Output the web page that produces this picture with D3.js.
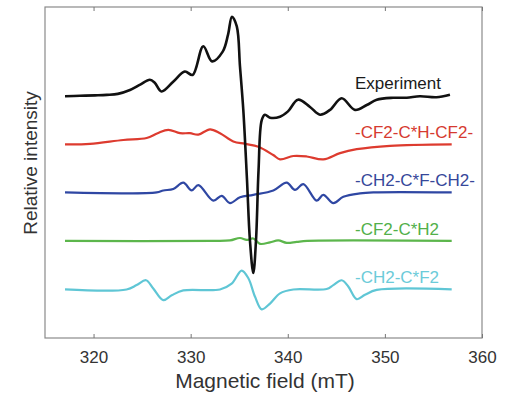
<!DOCTYPE html>
<html>
<head>
<meta charset="utf-8">
<script src="https://cdn.jsdelivr.net/npm/d3@7"></script>
<style>
  body { margin: 0; background: #fff; }
  svg { display: block; font-family: "Liberation Sans", Arial, sans-serif; }
</style>
</head>
<body>
<div id="chart"></div>
<script>
// chart data : field in mT, relative signal around each trace baseline
var xTicks = [320, 330, 340, 350, 360];

var expField = [317.06, 318.6, 320.15, 321.35, 322.5, 323.75, 324.8, 325.8, 326.3, 327.0, 328.2, 329.4, 330.2, 331.3, 332.2, 333.3, 333.85, 334.25, 334.75, 335.08, 335.42, 335.8, 336.1, 336.45, 336.73, 336.99, 337.32, 337.65, 338.17, 339.2, 340.02, 341.05, 342.29, 343.32, 344.35, 345.55, 346.92, 348.13, 349.16, 350.84, 352.25, 353.6, 355.3, 356.7];
var expValue = [-0.02, -0.01, 0, 0.01, 0.03, 0.11, 0.22, 0.32, 0.26, 0.08, 0.28, 0.49, 0.42, 1.01, 0.70, 0.90, 1.25, 1.62, 1.42, 0.59, -0.30, -1.74, -2.98, -3.66, -2.98, -1.54, -0.51, -0.40, -0.46, -0.44, -0.33, -0.09, -0.24, -0.40, -0.30, -0.06, -0.30, -0.20, -0.09, -0.05, -0.05, -0.02, -0.04, 0.01];

var redField = [317.06, 319.63, 323.06, 325.47, 326.6, 327.7, 328.9, 329.93, 330.79, 331.99, 333.02, 334.39, 335.6, 336.97, 338.5, 339.2, 340.57, 341.95, 343.66, 345.38, 347.1, 350.53, 356.88];
var redValue = [-0.01, 0, 0.08, 0.12, 0.22, 0.29, 0.22, 0.22, 0.19, 0.30, 0.22, 0.05, 0, -0.06, -0.23, -0.32, -0.25, -0.26, -0.32, -0.19, -0.11, -0.04, -0.01];

var blueField = [317.06, 326.5, 327.18, 328.21, 329.24, 330.1, 330.79, 332.33, 333.19, 334.05, 335.08, 336.45, 338.51, 339.89, 340.74, 341.6, 342.98, 343.66, 344.69, 345.72, 347.44, 348.81, 356.88];
var blueValue = [0, 0, 0.04, 0.07, 0.20, 0.04, 0.15, -0.17, -0.07, -0.22, -0.10, -0.05, 0.04, 0.20, 0.05, 0.17, -0.17, -0.05, -0.22, -0.09, -0.02, 0, 0];

var greenField = [317.06, 332.33, 334.05, 335.08, 335.77, 336.45, 337.14, 338.17, 339.02, 339.89, 340.92, 342.0, 356.88];
var greenValue = [0, 0, 0.01, 0.06, 0.02, 0.05, -0.06, -0.03, 0.01, -0.04, -0.02, 0, 0];

var cyanField = [317.06, 323.4, 324.44, 325.4, 326.15, 327.18, 328.05, 329.24, 333.02, 334.22, 335.25, 335.94, 336.63, 337.32, 338.17, 339.2, 340.57, 344.0, 344.69, 345.55, 346.23, 347.1, 347.95, 349.16, 356.88];
var cyanValue = [0, 0, 0.09, 0.19, 0.02, -0.22, -0.12, -0.02, 0, 0.12, 0.39, 0.23, -0.15, -0.41, -0.29, -0.08, 0, 0.01, 0.09, 0.19, 0.06, -0.20, -0.11, -0.01, 0];

var seriesNames = ["Experiment", "-CF2-C*H-CF2-", "-CH2-C*F-CH2-", "-CF2-C*H2", "-CH2-C*F2"];
var seriesOffsets = [5, 4, 3, 2, 1];
var lineColors = ["#111111", "#dd3b2f", "#2f47a3", "#5cb64c", "#5fc6d5"];
var labelColors = ["#1a1a1a", "#d63a30", "#36479a", "#52b04a", "#6ccbd9"];

var width = 511,
    height = 396;
var margin = {left: 45, right: 29, top: 7, bottom: 58};

var svg = d3.select("#chart").append("svg")
  .attr("width", width)
  .attr("height", height);

svg.append("rect").attr("width", width).attr("height", height).attr("fill", "#fff");

var x = d3.scaleLinear()
  .domain([315, 360])
  .range([margin.left, width - margin.right]);

var y = d3.scaleLinear()
  .domain([0, 6.82])
  .range([height - margin.bottom, margin.top]);

// frame
svg.append("rect")
  .attr("x", margin.left)
  .attr("y", margin.top)
  .attr("width", width - margin.left - margin.right)
  .attr("height", height - margin.top - margin.bottom)
  .attr("fill", "none")
  .attr("stroke", "#8a8a8a")
  .attr("stroke-width", 1.2);

// bottom axis, ticks pointing inside
var xAxis = svg.append("g")
  .attr("transform", "translate(0," + (height - margin.bottom) + ")")
  .call(d3.axisBottom(x).tickValues(xTicks).tickSize(-4).tickPadding(13));
xAxis.select(".domain").remove();
xAxis.selectAll(".tick line").attr("stroke", "#777");
xAxis.selectAll(".tick text")
  .attr("fill", "#333")
  .style("font-size", "17px")
  .style("font-family", "Liberation Sans, Arial, sans-serif");

// top ticks
var xTop = svg.append("g")
  .attr("transform", "translate(0," + margin.top + ")")
  .call(d3.axisTop(x).tickValues(xTicks).tickSize(-4).tickFormat(""));
xTop.select(".domain").remove();
xTop.selectAll(".tick line").attr("stroke", "#777");

svg.append("text")
  .attr("x", 265)
  .attr("y", 388)
  .attr("text-anchor", "middle")
  .attr("fill", "#333")
  .style("font-size", "21px")
  .text("Magnetic field (mT)");

svg.append("text")
  .attr("transform", "translate(37,163) rotate(-90)")
  .attr("text-anchor", "middle")
  .attr("fill", "#333")
  .style("font-size", "19px")
  .text("Relative intensity");

var line = d3.line()
  .x(function(d) { return x(d[0]); })
  .y(function(d) { return y(d[1]); })
  .curve(d3.curveCatmullRom.alpha(0.5));

var fields = [expField, redField, blueField, greenField, cyanField];
var values = [expValue, redValue, blueValue, greenValue, cyanValue];

// draw bottom trace first so experiment spike sits on top
for (var i = seriesNames.length - 1; i >= 0; i--) {
  var pts = fields[i].map(function(f, j) { return [f, values[i][j] + seriesOffsets[i]]; });
  svg.append("path")
    .datum(pts)
    .attr("d", line)
    .attr("fill", "none")
    .attr("stroke", lineColors[i])
    .attr("stroke-width", i == 0 ? 2.6 : 2.2)
    .attr("stroke-linejoin", "round");
}

svg.selectAll(".series-label")
  .data(seriesNames)
  .enter().append("text")
  .attr("class", "series-label")
  .attr("x", 355)
  .attr("y", function(d, i) { return y(seriesOffsets[i]) - 6; })
  .attr("fill", function(d, i) { return labelColors[i]; })
  .style("font-size", "17px")
  .text(function(d) { return d; });
</script>
</body>
</html>
